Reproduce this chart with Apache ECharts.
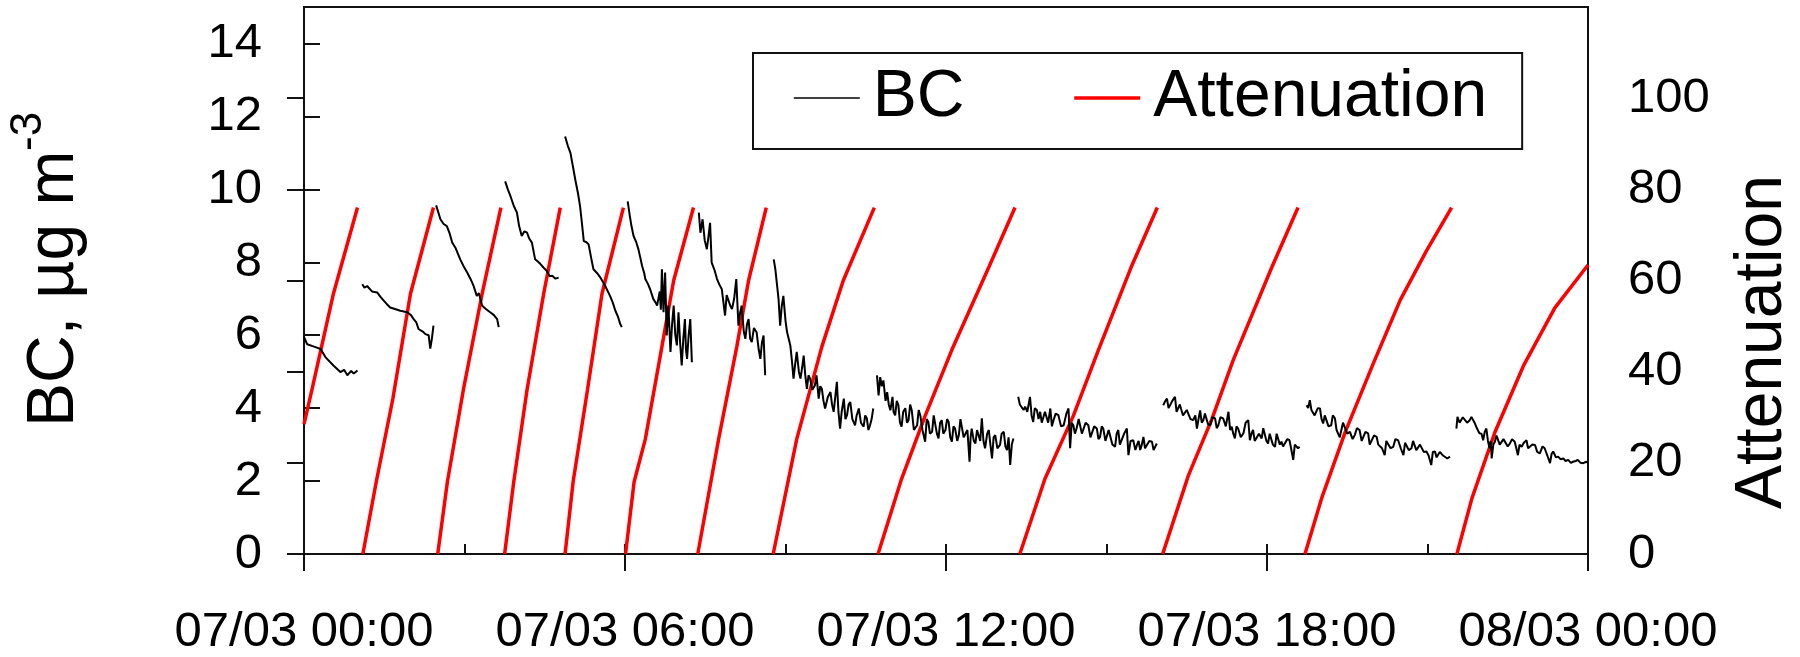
<!DOCTYPE html>
<html><head><meta charset="utf-8">
<script src="https://cdn.jsdelivr.net/npm/echarts@6/dist/echarts.min.js"></script>
<style>html,body{margin:0;padding:0;background:#fff}#c{width:1800px;height:657px}</style>
</head><body><div id="c"></div>
<script>
// ---- data (x = hours since 07/03 00:00) ----
const xTickLabels = ['07/03 00:00', '07/03 06:00', '07/03 12:00', '07/03 18:00', '08/03 00:00'];
const seriesNames = ['BC', 'Attenuation'];

// BC (µg m-3), one array per filter spot
const bcSeg1 = [[0.00,5.95],[0.06,5.75],[0.20,5.68],[0.31,5.62],[0.40,5.40],[0.55,5.17],[0.68,4.99],[0.75,5.05],[0.81,4.90],[0.88,5.02],[0.93,4.95],[1.00,5.03]];
const bcSeg2 = [[1.09,7.40],[1.13,7.30],[1.18,7.35],[1.27,7.20],[1.37,7.17],[1.43,7.05],[1.49,6.95],[1.55,6.85],[1.61,6.76],[1.70,6.72],[1.80,6.67],[1.93,6.63],[2.00,6.55],[2.05,6.44],[2.10,6.35],[2.14,6.17],[2.22,6.10],[2.27,6.03],[2.33,6.00],[2.36,5.63],[2.39,5.90],[2.42,6.26]];
const bcSeg3 = [[2.47,9.56],[2.55,9.18],[2.61,9.05],[2.67,8.99],[2.72,8.80],[2.77,8.54],[2.83,8.40],[2.92,8.08],[2.98,7.90],[3.05,7.72],[3.11,7.55],[3.17,7.35],[3.23,7.08],[3.27,7.15],[3.33,6.81],[3.40,6.72],[3.48,6.63],[3.55,6.55],[3.61,6.44],[3.64,6.22]];
const bcSeg4 = [[3.76,10.22],[3.81,10.00],[3.86,9.81],[3.92,9.55],[3.98,9.36],[4.02,9.00],[4.07,8.72],[4.12,8.85],[4.17,8.81],[4.21,8.65],[4.26,8.54],[4.32,8.08],[4.37,8.02],[4.42,7.95],[4.48,7.85],[4.54,7.76],[4.59,7.62],[4.64,7.63],[4.70,7.55],[4.76,7.58]];
const bcSeg5 = [[4.88,11.45],[4.93,11.20],[4.98,11.00],[5.03,10.60],[5.07,10.27],[5.12,9.90],[5.16,9.54],[5.20,9.00],[5.23,8.58],[5.28,8.55],[5.32,8.49],[5.37,8.10],[5.41,7.81],[5.48,7.70],[5.54,7.58],[5.63,7.35],[5.72,7.08],[5.77,6.90],[5.82,6.67],[5.87,6.50],[5.91,6.31],[5.94,6.22]];
const bcSeg6 = [[6.05,9.67],[6.09,9.27],[6.12,9.00],[6.16,8.72],[6.21,8.55],[6.25,8.36],[6.29,8.10],[6.32,7.90],[6.36,7.70],[6.38,7.54],[6.43,7.40],[6.47,7.26],[6.53,6.99],[6.57,6.90],[6.60,6.81],[6.65,7.20],[6.67,6.70],[6.69,7.81],[6.72,6.63],[6.75,7.72],[6.78,5.99],[6.81,6.81],[6.83,6.20],[6.85,5.54],[6.88,6.30],[6.91,6.81],[6.94,6.00],[6.97,5.72],[7.00,6.63],[7.03,5.80],[7.06,5.17],[7.09,5.90],[7.12,6.44],[7.14,5.60],[7.16,5.35],[7.19,6.00],[7.22,6.44],[7.25,5.26]];
const bcSeg7 = [[7.38,9.36],[7.41,8.81],[7.45,9.18],[7.49,8.60],[7.53,8.36],[7.56,8.70],[7.59,9.08],[7.62,7.99],[7.67,7.80],[7.72,7.54],[7.76,7.40],[7.81,7.26],[7.84,6.90],[7.87,6.54],[7.90,7.10],[7.93,7.08],[7.97,6.80],[8.00,6.72],[8.04,7.00],[8.08,7.54],[8.12,6.26],[8.15,6.60],[8.18,6.81],[8.22,6.10],[8.25,5.90],[8.28,6.30],[8.31,6.44],[8.34,5.90],[8.37,5.81],[8.41,6.20],[8.46,6.08],[8.50,5.60],[8.53,5.35],[8.56,5.80],[8.59,5.99],[8.62,4.90]];
const bcSeg8 = [[8.78,8.08],[8.81,7.81],[8.84,7.40],[8.87,6.99],[8.90,6.26],[8.93,6.80],[8.96,7.08],[9.00,6.40],[9.03,6.08],[9.06,5.90],[9.09,5.72],[9.12,5.30],[9.15,4.81],[9.18,5.20],[9.21,5.54],[9.25,5.00],[9.28,4.81],[9.31,5.10],[9.34,5.44],[9.37,4.90],[9.40,4.53],[9.43,4.90],[9.46,4.81],[9.50,4.50],[9.55,4.63],[9.58,4.90],[9.62,4.26],[9.65,4.60],[9.68,4.53],[9.71,4.20],[9.74,3.99],[9.79,4.30],[9.84,4.44],[9.87,4.10],[9.90,3.90],[9.93,4.30],[9.96,4.72],[9.99,3.90],[10.02,3.44],[10.05,3.90],[10.09,4.26],[10.12,3.70],[10.15,3.81],[10.18,4.10],[10.21,4.17],[10.25,3.70],[10.30,3.53],[10.33,3.80],[10.37,3.99],[10.41,3.60],[10.46,3.49],[10.49,3.80],[10.52,3.72],[10.55,3.40],[10.58,3.53],[10.61,3.70],[10.64,3.99]];
const bcSeg9 = [[10.71,4.90],[10.74,4.35],[10.77,4.85],[10.80,4.60],[10.83,4.76],[10.87,4.20],[10.90,4.44],[10.93,4.10],[10.96,3.94],[11.00,4.31],[11.02,3.90],[11.05,3.80],[11.08,4.20],[11.11,4.08],[11.14,3.60],[11.17,3.49],[11.20,3.90],[11.24,4.00],[11.27,3.60],[11.30,3.67],[11.33,4.10],[11.36,3.94],[11.40,3.40],[11.46,3.53],[11.49,3.95],[11.52,3.80],[11.56,3.40],[11.61,3.08],[11.64,3.70],[11.67,3.62],[11.70,3.30],[11.74,3.35],[11.77,3.80],[11.80,3.76],[11.83,3.30],[11.86,3.17],[11.89,3.60],[11.92,3.67],[11.95,3.30],[11.99,3.40],[12.02,3.70],[12.05,3.62],[12.08,3.20],[12.11,3.08],[12.14,3.50],[12.17,3.44],[12.21,3.10],[12.24,3.26],[12.27,3.70],[12.30,3.67],[12.33,3.20],[12.36,3.17],[12.40,3.40],[12.44,2.53],[12.46,3.20],[12.48,3.44],[12.52,3.10],[12.55,3.03],[12.58,3.40],[12.61,3.35],[12.64,3.10],[12.67,3.72],[12.70,3.10],[12.73,2.90],[12.77,3.30],[12.80,3.40],[12.83,3.00],[12.86,2.62],[12.89,3.20],[12.92,3.26],[12.96,2.90],[13.01,2.99],[13.04,3.30],[13.08,3.35],[13.11,2.95],[13.14,2.85],[13.17,3.20],[13.20,2.44],[13.23,3.00],[13.26,3.17]];
const bcSeg10 = [[13.35,4.31],[13.38,4.10],[13.41,4.13],[13.45,3.95],[13.48,4.04],[13.52,3.90],[13.57,4.31],[13.60,3.80],[13.63,3.62],[13.66,4.00],[13.70,3.94],[13.73,3.70],[13.76,3.90],[13.79,3.60],[13.82,3.58],[13.85,3.90],[13.88,3.85],[13.91,3.60],[13.95,3.99],[13.98,3.50],[14.01,3.67],[14.05,3.85],[14.10,3.81],[14.15,3.50],[14.20,3.53],[14.25,3.85],[14.29,3.99],[14.32,2.90],[14.35,3.60],[14.38,3.53],[14.41,3.30],[14.44,3.44],[14.48,3.70],[14.51,3.67],[14.54,3.30],[14.57,3.26],[14.61,3.60],[14.66,3.53],[14.70,3.20],[14.73,3.17],[14.77,3.50],[14.82,3.44],[14.85,3.15],[14.88,3.21],[14.91,3.50],[14.94,3.44],[14.98,3.10],[15.01,3.12],[15.04,3.40],[15.07,3.35],[15.11,3.00],[15.16,2.94],[15.19,3.30],[15.22,3.40],[15.25,3.00],[15.28,3.03],[15.33,3.30],[15.38,3.44],[15.41,2.71],[15.45,3.10],[15.50,3.12],[15.54,2.85],[15.57,2.99],[15.60,3.10],[15.63,2.85],[15.66,3.00],[15.69,3.21],[15.72,2.90],[15.75,2.90],[15.80,3.10],[15.85,3.08],[15.88,2.85],[15.91,2.90],[15.94,3.03]];
const bcSeg11 = [[16.06,4.08],[16.10,4.20],[16.13,4.26],[16.16,4.00],[16.19,3.99],[16.23,4.20],[16.28,4.31],[16.31,3.90],[16.34,3.94],[16.37,4.10],[16.40,4.08],[16.43,3.80],[16.46,3.81],[16.50,3.95],[16.53,3.90],[16.57,3.70],[16.62,3.67],[16.66,3.80],[16.69,3.44],[16.72,3.70],[16.75,3.94],[16.78,3.60],[16.81,3.67],[16.84,3.85],[16.87,3.90],[16.90,3.55],[16.94,3.53],[16.98,3.75],[17.03,3.72],[17.06,3.45],[17.09,3.53],[17.13,3.75],[17.18,3.72],[17.23,3.50],[17.28,3.90],[17.31,3.40],[17.34,3.49],[17.37,3.30],[17.40,3.17],[17.43,3.50],[17.46,3.44],[17.51,3.20],[17.56,3.31],[17.60,3.60],[17.65,3.67],[17.68,3.12],[17.71,3.30],[17.74,3.40],[17.77,3.10],[17.80,3.08],[17.85,3.30],[17.90,3.17],[17.93,3.45],[17.96,3.44],[17.99,3.10],[18.02,3.03],[18.05,3.30],[18.08,3.26],[18.11,3.00],[18.15,2.94],[18.18,3.30],[18.21,3.31],[18.24,3.00],[18.27,3.08],[18.30,2.95],[18.33,2.94],[18.38,3.15],[18.42,3.12],[18.45,2.90],[18.49,2.58],[18.52,3.00],[18.55,3.03],[18.58,2.90],[18.61,2.94]];
const bcSeg12 = [[18.74,4.08],[18.77,4.00],[18.80,4.22],[18.83,3.95],[18.86,3.99],[18.89,3.80],[18.92,3.85],[18.95,4.00],[18.99,3.99],[19.02,3.70],[19.05,3.58],[19.08,3.80],[19.11,3.76],[19.15,3.50],[19.20,3.53],[19.23,3.80],[19.27,3.72],[19.30,3.40],[19.33,3.40],[19.36,3.20],[19.39,3.21],[19.42,3.60],[19.45,3.58],[19.50,3.30],[19.55,3.35],[19.60,3.15],[19.64,3.26],[19.68,3.45],[19.73,3.40],[19.77,3.10],[19.80,3.12],[19.84,3.35],[19.89,3.31],[19.92,3.00],[19.95,2.99],[20.00,3.25],[20.05,3.21],[20.08,3.00],[20.11,3.03],[20.15,2.90],[20.20,2.71],[20.23,3.10],[20.26,3.08],[20.31,2.90],[20.36,2.94],[20.40,3.15],[20.45,3.12],[20.50,2.90],[20.55,2.71],[20.58,3.05],[20.61,3.08],[20.65,2.85],[20.70,2.90],[20.73,3.10],[20.76,3.12],[20.79,2.85],[20.82,2.81],[20.86,3.00],[20.89,2.99],[20.93,2.80],[20.98,2.81],[21.02,2.70],[21.07,2.44],[21.10,2.80],[21.14,2.81],[21.17,2.65],[21.20,2.62],[21.23,2.80],[21.26,2.85],[21.29,2.70],[21.32,2.71],[21.37,2.62],[21.42,2.67]];
const bcSeg13 = [[21.54,3.44],[21.56,3.76],[21.60,3.60],[21.63,3.58],[21.66,3.75],[21.69,3.72],[21.74,3.60],[21.79,3.67],[21.82,3.76],[21.85,3.72],[21.88,3.60],[21.91,3.49],[21.94,3.40],[21.97,3.31],[22.01,3.30],[22.04,3.12],[22.07,3.35],[22.10,3.44],[22.13,3.10],[22.16,2.90],[22.18,3.10],[22.20,2.62],[22.23,3.00],[22.26,3.08],[22.29,3.25],[22.32,3.21],[22.35,3.00],[22.38,2.99],[22.42,3.15],[22.45,3.12],[22.50,2.95],[22.54,3.03],[22.58,3.15],[22.63,3.08],[22.66,2.90],[22.69,2.71],[22.72,3.00],[22.76,2.94],[22.80,3.05],[22.85,3.12],[22.88,2.90],[22.91,2.85],[22.96,3.00],[23.01,2.99],[23.05,2.80],[23.10,2.76],[23.15,2.95],[23.19,2.90],[23.24,2.70],[23.29,2.49],[23.32,2.75],[23.35,2.81],[23.40,2.65],[23.44,2.67],[23.49,2.60],[23.54,2.62],[23.58,2.55],[23.63,2.58],[23.68,2.50],[23.72,2.53],[23.77,2.55],[23.81,2.58],[23.86,2.50],[23.91,2.49],[23.97,2.53],[24.00,2.50]];

// Attenuation, one array per filter spot
const atnRamp1 = [[0.00,28.5],[0.15,36.1],[0.55,57.1],[1.00,76.0]];
const atnRamp2 = [[1.10,0],[1.35,15.8],[1.66,34.0],[1.99,57.1],[2.42,76.0]];
const atnRamp3 = [[2.50,0],[2.68,15.8],[2.98,36.1],[3.33,57.1],[3.68,76.0]];
const atnRamp4 = [[3.75,0],[3.92,15.8],[4.17,36.1],[4.48,57.1],[4.79,76.0]];
const atnRamp5 = [[4.88,0],[5.03,15.8],[5.30,36.1],[5.57,57.1],[5.97,76.0]];
const atnRamp6 = [[6.01,0],[6.17,15.8],[6.38,25.2],[6.69,45.5],[6.91,60.0],[7.28,76.0]];
const atnRamp7 = [[7.36,0],[7.75,25.2],[8.09,45.5],[8.31,60.0],[8.64,76.0]];
const atnRamp8 = [[8.77,0],[9.21,25.2],[9.68,45.5],[10.08,60.0],[10.66,76.0]];
const atnRamp9 = [[10.73,0],[11.17,16.5],[11.61,30.3],[12.11,44.8],[12.80,62.9],[13.29,76.0]];
const atnRamp10 = [[13.38,0],[13.85,16.5],[14.38,30.3],[14.85,44.8],[15.46,62.9],[15.95,76.0]];
const atnRamp11 = [[16.05,0],[16.53,17.2],[16.97,29.6],[17.37,42.6],[18.09,62.9],[18.58,76.0]];
const atnRamp12 = [[18.71,0],[19.02,12.2],[19.46,26.7],[19.98,41.6],[20.49,55.7],[20.98,66.5],[21.45,76.0]];
const atnRamp13 = [[21.55,0],[21.83,12.2],[22.26,26.7],[22.79,41.2],[23.38,54.0],[24.00,63.4]];

const bcSegments = [bcSeg1,bcSeg2,bcSeg3,bcSeg4,bcSeg5,bcSeg6,bcSeg7,bcSeg8,bcSeg9,bcSeg10,bcSeg11,bcSeg12,bcSeg13];
const atnSegments = [atnRamp1,atnRamp2,atnRamp3,atnRamp4,atnRamp5,atnRamp6,atnRamp7,atnRamp8,atnRamp9,atnRamp10,atnRamp11,atnRamp12,atnRamp13];

// join segments with breaks (null y) between them
function joinSegments(segs) {
  const out = [];
  segs.forEach((s, i) => {
    if (i > 0) out.push([s[0][0], null]);
    s.forEach(p => out.push(p));
  });
  return out;
}

const FONT = '"Liberation Sans", Arial, sans-serif';
const AX = '#111';
const BC_WIDTH = 2;
const ATN_WIDTH = 3.5;

const chart = echarts.init(document.getElementById('c'), null, {renderer: 'canvas'});
chart.setOption({
  animation: false,
  backgroundColor: '#fff',
  grid: {left: 304, right: 212, top: 7, bottom: 101, show: true, borderColor: AX, borderWidth: 2, backgroundColor: 'transparent', containLabel: false},
  legend: {
    data: [
      {name: seriesNames[0], lineStyle: {width: 1.6, color: '#000'}},
      {name: seriesNames[1], lineStyle: {width: ATN_WIDTH, color: '#ff0000'}}
    ],
    left: 753, top: 53,
    orient: 'horizontal',
    itemWidth: 66, itemHeight: 20, itemGap: 108,
    padding: [12, 35, 18, 40],
    borderColor: AX, borderWidth: 2, borderRadius: 0,
    backgroundColor: '#fff',
    itemStyle: {opacity: 0},
    textStyle: {fontFamily: FONT, fontSize: 66, color: '#000', lineHeight: 66, padding: [0, 0, 0, 8]},
    selectedMode: false
  },
  xAxis: [
    {
      type: 'value', min: 0, max: 24, interval: 6, position: 'bottom',
      axisLine: {show: true, lineStyle: {color: AX, width: 2}},
      axisTick: {show: true, inside: false, length: 17, lineStyle: {color: AX, width: 2}},
      axisLabel: {fontFamily: FONT, fontSize: 49, color: '#000', margin: 54,
        formatter: v => xTickLabels[Math.round(v / 6)]},
      splitLine: {show: false}
    },
    {
      type: 'value', min: 0, max: 24, interval: 3, position: 'bottom',
      axisLine: {show: false},
      axisTick: {show: true, inside: true, length: 10, lineStyle: {color: AX, width: 2}},
      axisLabel: {show: false},
      splitLine: {show: false}
    }
  ],
  yAxis: [
    {
      type: 'value', min: 0, max: 15, interval: 2, position: 'left',
      axisLine: {show: true, lineStyle: {color: AX, width: 2}},
      axisTick: {show: true, inside: true, length: 16, lineStyle: {color: AX, width: 2}},
      axisLabel: {fontFamily: FONT, fontSize: 49, color: '#000', margin: 42, showMaxLabel: false},
      splitLine: {show: false}
    },
    {
      type: 'value', min: 0, max: 120, interval: 20, position: 'right',
      axisLine: {show: true, lineStyle: {color: AX, width: 2}},
      axisTick: {show: true, inside: true, length: 17, lineStyle: {color: AX, width: 2}},
      axisLabel: {fontFamily: FONT, fontSize: 49, color: '#000', margin: 40, showMaxLabel: false},
      splitLine: {show: false}
    }
  ],
  graphic: [
    {type: 'text', x: 55, y: 427, rotation: Math.PI / 2,
      style: {text: 'BC, µg m', fontFamily: FONT, fontSize: 66, fill: '#000', align: 'left', verticalAlign: 'middle'}},
    {type: 'text', x: 29, y: 151, rotation: Math.PI / 2,
      style: {text: '-3', fontFamily: FONT, fontSize: 44, fill: '#000', align: 'left', verticalAlign: 'middle'}},
    {type: 'text', x: 1763, y: 509, rotation: Math.PI / 2,
      style: {text: 'Attenuation', fontFamily: FONT, fontSize: 66, fill: '#000', align: 'left', verticalAlign: 'middle'}}
  ],
  series: [
    {
      name: 'Attenuation', type: 'line', xAxisIndex: 0, yAxisIndex: 1,
      data: joinSegments(atnSegments), symbol: 'none', showSymbol: false, connectNulls: false,
      lineStyle: {color: '#ff0000', width: ATN_WIDTH}, itemStyle: {color: '#ff0000'}, z: 2
    },
    {
      name: 'BC', type: 'line', xAxisIndex: 0, yAxisIndex: 0,
      data: joinSegments(bcSegments), symbol: 'none', showSymbol: false, connectNulls: false,
      lineStyle: {color: '#000', width: BC_WIDTH}, itemStyle: {color: '#000'}, z: 3
    }
  ]
});
</script></body></html>
